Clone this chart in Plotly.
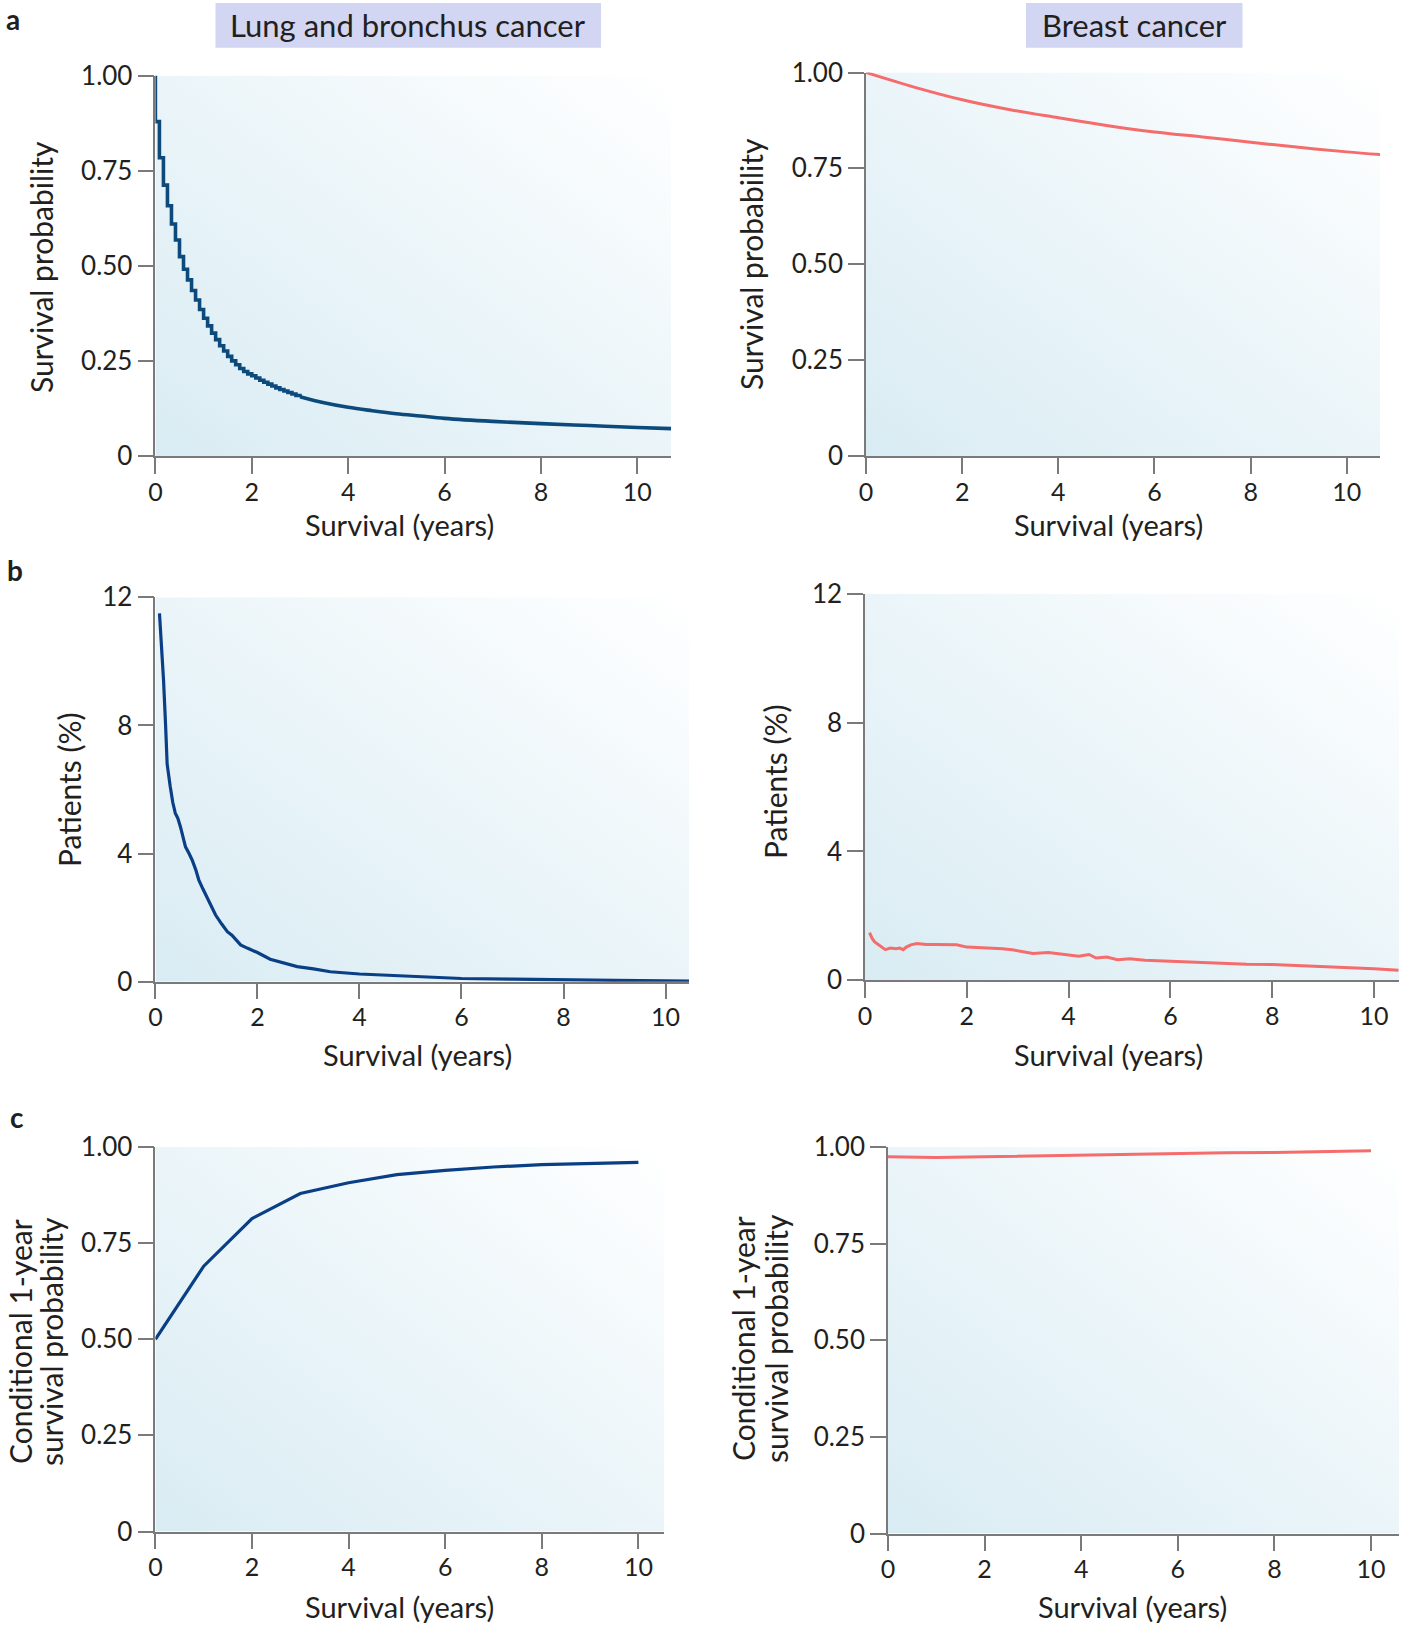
import base64
import plotly.graph_objects as go

W, H = 1401, 1625

# ---------------- data ----------------
# a: Kaplan-Meier survival (lung: monthly steps for first 3 years, then tail)
lung_km_months = list(range(0, 37))
lung_km_vals = [0.879, 0.784, 0.712, 0.658, 0.610, 0.568, 0.524, 0.491, 0.463, 0.435,
                0.410, 0.385, 0.362, 0.342, 0.323, 0.306, 0.290, 0.276, 0.262, 0.250,
                0.240, 0.230, 0.222, 0.216, 0.211, 0.205, 0.199, 0.194, 0.189, 0.184,
                0.179, 0.175, 0.171, 0.167, 0.163, 0.159, 0.156]
lung_km_tail_years = [3.0, 3.5, 4.0, 4.5, 5.0, 5.5, 6.0, 7.0, 8.0, 9.0, 10.0, 10.7]
lung_km_tail_vals = [0.156, 0.140, 0.128, 0.119, 0.111, 0.105, 0.099, 0.091, 0.085, 0.080, 0.075, 0.072]

breast_km_years = [0, 1, 2, 3, 4, 5, 6, 7, 8, 9, 10, 10.7]
breast_km_vals = [1.0, 0.962, 0.929, 0.903, 0.882, 0.862, 0.845, 0.832, 0.818, 0.805, 0.793, 0.786]

# b: distribution of survival time (% patients)
lung_pct_years = [0.08, 0.12, 0.16, 0.20, 0.23, 0.29, 0.34, 0.39, 0.44, 0.49, 0.55, 0.59,
                  0.66, 0.72, 0.79, 0.85, 0.93, 1.01, 1.10, 1.18, 1.30, 1.41, 1.50, 1.67,
                  1.80, 2.00, 2.25, 2.50, 2.78, 3.10, 3.43, 4.00, 4.75, 5.50, 6.00, 7.00,
                  8.00, 9.00, 10.0, 10.46]
lung_pct_vals = [11.5, 10.5, 9.4, 8.0, 6.8, 6.1, 5.6, 5.26, 5.1, 4.84, 4.5, 4.21,
                 4.0, 3.8, 3.5, 3.18, 2.9, 2.65, 2.35, 2.08, 1.8, 1.56, 1.45, 1.15,
                 1.05, 0.91, 0.70, 0.58, 0.47, 0.40, 0.31, 0.24, 0.18, 0.14, 0.10, 0.08,
                 0.05, 0.04, 0.03, 0.02]

breast_pct_years = [0.09, 0.14, 0.19, 0.30, 0.40, 0.50, 0.61, 0.68, 0.75, 0.81, 0.90, 1.02,
                    1.20, 1.37, 1.60, 1.80, 2.00, 2.25, 2.47, 2.70, 2.89, 3.10, 3.30, 3.60,
                    4.00, 4.20, 4.40, 4.54, 4.75, 4.96, 5.20, 5.50, 6.00, 6.30, 6.62, 7.00,
                    7.50, 8.00, 8.50, 9.03, 9.50, 10.0, 10.48]
breast_pct_vals = [1.48, 1.30, 1.19, 1.05, 0.95, 1.00, 0.98, 1.00, 0.95, 1.03, 1.10, 1.14,
                   1.11, 1.11, 1.10, 1.10, 1.03, 1.02, 1.01, 0.98, 0.95, 0.88, 0.83, 0.86,
                   0.78, 0.75, 0.80, 0.69, 0.72, 0.64, 0.67, 0.62, 0.59, 0.57, 0.54, 0.52,
                   0.50, 0.49, 0.46, 0.41, 0.40, 0.36, 0.31]

# c: conditional 1-year survival probability
cond_years = [0, 1, 2, 3, 4, 5, 6, 7, 8, 9, 10]
lung_cond_vals = [0.50, 0.69, 0.814, 0.879, 0.907, 0.928, 0.939, 0.948, 0.954, 0.958, 0.960]
breast_cond_vals = [0.975, 0.973, 0.975, 0.977, 0.980, 0.982, 0.984, 0.985, 0.986, 0.988, 0.990]

x_ticks = [0, 2, 4, 6, 8, 10]
prob_ticks = [0, 0.25, 0.5, 0.75, 1.0]
prob_ticktext = ["0", "0.25", "0.50", "0.75", "1.00"]
pct_ticks = [0, 4, 8, 12]

column_titles = ["Lung and bronchus cancer", "Breast cancer"]
panel_letters = ["a", "b", "c"]

# ---------------- styling ----------------
FONT = "Lato"
TXT = "#231f20"
AXC = "#7a7a7a"
LUNG = "#0c4a7c"
LUNG2 = "#0a3f86"
BREAST = "#f46c6c"

# subplot geometry in pixels: (x_left, x_right, y_top, y_bottom, xmax, ymax)
panels = [
    (155.4, 671.0, 75.6, 456.0, 10.70, 1.0),
    (866.0, 1380.0, 72.5, 456.0, 10.69, 1.0),
    (155.4, 689.0, 597.3, 981.7, 10.46, 12.0),
    (865.0, 1399.0, 593.7, 980.3, 10.49, 12.0),
    (155.4, 664.0, 1147.0, 1531.5, 10.53, 1.0),
    (888.0, 1399.0, 1147.0, 1533.6, 10.58, 1.0),
]

fig = go.Figure()

lung_km_x = [0] + [m / 12 for m in lung_km_months]
lung_km_y = [1.0] + lung_km_vals
fig.add_trace(go.Scatter(x=lung_km_x, y=lung_km_y, mode="lines", line=dict(color=LUNG, width=3.6, shape="hv"),
                         xaxis="x", yaxis="y", showlegend=False))
fig.add_trace(go.Scatter(x=lung_km_tail_years, y=lung_km_tail_vals, mode="lines",
                         line=dict(color=LUNG, width=3.6, shape="spline"),
                         xaxis="x", yaxis="y", showlegend=False))
fig.add_trace(go.Scatter(x=breast_km_years, y=breast_km_vals, mode="lines",
                         line=dict(color=BREAST, width=3, shape="spline"),
                         xaxis="x2", yaxis="y2", showlegend=False))
fig.add_trace(go.Scatter(x=lung_pct_years, y=lung_pct_vals, mode="lines",
                         line=dict(color=LUNG2, width=3.2),
                         xaxis="x3", yaxis="y3", showlegend=False))
fig.add_trace(go.Scatter(x=breast_pct_years, y=breast_pct_vals, mode="lines",
                         line=dict(color=BREAST, width=3),
                         xaxis="x4", yaxis="y4", showlegend=False))
fig.add_trace(go.Scatter(x=cond_years, y=lung_cond_vals, mode="lines",
                         line=dict(color=LUNG2, width=3.2),
                         xaxis="x5", yaxis="y5", showlegend=False))
fig.add_trace(go.Scatter(x=cond_years, y=breast_cond_vals, mode="lines",
                         line=dict(color=BREAST, width=3),
                         xaxis="x6", yaxis="y6", showlegend=False))

# gradient background as SVG image
svg = ('<svg xmlns="http://www.w3.org/2000/svg" width="100" height="100" viewBox="0 0 100 100" '
       'preserveAspectRatio="none"><defs><linearGradient id="g" x1="0" y1="1" x2="1" y2="0">'
       '<stop offset="0" stop-color="#d9ecf3"/><stop offset="0.5" stop-color="#ebf5f9"/>'
       '<stop offset="1" stop-color="#ffffff"/></linearGradient></defs>'
       '<rect x="0" y="0" width="100" height="100" fill="url(#g)"/></svg>')
svg_uri = "data:image/svg+xml;base64," + base64.b64encode(svg.encode()).decode()

layout = dict(
    template="none",
    width=W, height=H, autosize=False,
    margin=dict(l=0, r=0, t=0, b=0, pad=0, autoexpand=False),
    paper_bgcolor="white", plot_bgcolor="rgba(0,0,0,0)",
    font=dict(family=FONT, color=TXT, size=26),
    showlegend=False,
)
images = []
for i, (xl, xr, yt, yb, xmax, ymax) in enumerate(panels):
    k = "" if i == 0 else str(i + 1)
    is_prob = ymax == 1.0
    layout["xaxis" + k] = dict(
        domain=[xl / W, xr / W], range=[0, xmax], anchor="y" + k, automargin=False,
        tickvals=x_ticks, ticks="outside", ticklen=16, tickwidth=1.5, tickcolor=AXC,
        showline=True, linecolor=AXC, linewidth=1.5, showgrid=False, zeroline=False,
        tickfont=dict(size=25, family=FONT, color=TXT), fixedrange=True,
        ticklabelstandoff=-3,
    )
    layout["yaxis" + k] = dict(
        domain=[1 - yb / H, 1 - yt / H], range=[0, ymax], anchor="x" + k, automargin=False,
        tickvals=prob_ticks if is_prob else pct_ticks,
        ticktext=prob_ticktext if is_prob else [str(v) for v in pct_ticks],
        ticks="outside", ticklen=16, tickwidth=1.5, tickcolor=AXC,
        showline=True, linecolor=AXC, linewidth=1.5, showgrid=False, zeroline=False,
        tickfont=dict(size=26, family=FONT, color=TXT), fixedrange=True,
        layer="below traces",
    )
    images.append(dict(source=svg_uri, xref="paper", yref="paper", x=xl / W, y=1 - yt / H,
                       sizex=(xr - xl) / W, sizey=(yb - yt) / H, xanchor="left", yanchor="top",
                       sizing="stretch", layer="below"))
layout["images"] = images

# title boxes
shapes = [
    dict(type="rect", xref="paper", yref="paper", x0=215.5 / W, x1=601 / W, y0=1 - 47.7 / H, y1=1 - 3 / H,
         fillcolor="#d2d6f2", line=dict(width=0), layer="above"),
    dict(type="rect", xref="paper", yref="paper", x0=1026 / W, x1=1242.5 / W, y0=1 - 47.7 / H, y1=1 - 3 / H,
         fillcolor="#d2d6f2", line=dict(width=0), layer="above"),
]
layout["shapes"] = shapes

def ann(text, xpx, ypx, size=30, angle=0, bold=False, yanchor="middle"):
    return dict(text=("<b>%s</b>" % text) if bold else text, x=xpx / W, y=1 - ypx / H,
                xref="paper", yref="paper", showarrow=False, xanchor="center", yanchor=yanchor,
                textangle=angle, font=dict(family=FONT, size=size, color=TXT), align="center")

annotations = [
    ann(column_titles[0], 408, 25, size=31),
    ann(column_titles[1], 1134, 25, size=31),
    ann(panel_letters[0], 13, 0, size=28, bold=True, yanchor="top"),
    ann(panel_letters[1], 15, 570, size=28, bold=True),
    ann(panel_letters[2], 17, 1117, size=28, bold=True),
    # panel a
    ann("Survival probability", 41, 267, angle=-90),
    ann("Survival (years)", 399, 525, size=29),
    ann("Survival probability", 751, 264, angle=-90),
    ann("Survival (years)", 1108, 525, size=29),
    # panel b
    ann("Patients (%)", 69, 790, angle=-90),
    ann("Survival (years)", 417, 1054, size=29),
    ann("Patients (%)", 775, 782, angle=-90),
    ann("Survival (years)", 1108, 1054, size=29),
    # panel c
    ann("Conditional 1-year", 20, 1342, angle=-90),
    ann("survival probability", 51, 1342, angle=-90),
    ann("Survival (years)", 399, 1606, size=29),
    ann("Conditional 1-year", 743, 1339, angle=-90),
    ann("survival probability", 776, 1339, angle=-90),
    ann("Survival (years)", 1132, 1606, size=29),
]
layout["annotations"] = annotations

fig.update_layout(**layout)

fig.write_html("out.html", post_script="document.body.style.margin='0';document.body.style.padding='0';",
               config={"displayModeBar": False})
